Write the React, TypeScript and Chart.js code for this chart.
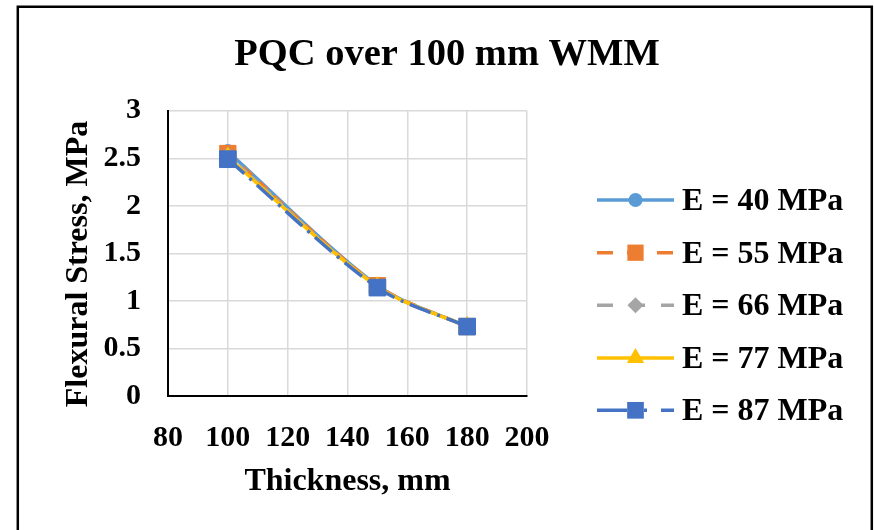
import React, { useEffect, useRef } from "react";
import { Chart, registerables } from "chart.js";

Chart.register(...registerables);

const thickness = [100, 150, 180];
const seriesLabels = ["E = 40 MPa", "E = 55 MPa", "E = 66 MPa", "E = 77 MPa", "E = 87 MPa"];
const e40 = [2.57, 1.16, 0.73];
const e55 = [2.55, 1.16, 0.73];
const e66 = [2.53, 1.15, 0.73];
const e77 = [2.51, 1.15, 0.73];
const e87 = [2.49, 1.14, 0.73];
const seriesValues = [e40, e55, e66, e77, e87];

const colors = ["#5B9BD5", "#ED7D31", "#A5A5A5", "#FFC000", "#4472C4"];
const dashes: number[][] = [[], [12, 9], [10, 6], [], [22, 7, 3, 7]];
const legendDashes: number[][] = [[], [16, 14], [16, 16], [], [30, 17, 3, 14]];
const pointStyles = ["circle", "rect", "rectRot", "triangle", "rect"];
const pointRadii = [7, 11.5, 8, 10, 11.8];

const FONT = "'Liberation Serif', 'Times New Roman', serif";

function drawMarker(ctx: CanvasRenderingContext2D, style: string, x: number, y: number, r: number, color: string) {
  ctx.save();
  ctx.setLineDash([]);
  ctx.fillStyle = color;
  ctx.beginPath();
  if (style === "circle") {
    ctx.arc(x, y, r, 0, Math.PI * 2);
  } else if (style === "rect") {
    const s = r * Math.SQRT1_2;
    ctx.rect(x - s, y - s, 2 * s, 2 * s);
  } else if (style === "rectRot") {
    ctx.moveTo(x - r, y);
    ctx.lineTo(x, y - r);
    ctx.lineTo(x + r, y);
    ctx.lineTo(x, y + r);
    ctx.closePath();
  } else if (style === "triangle") {
    const hw = r * Math.sin((2 * Math.PI) / 3);
    ctx.moveTo(x, y - r);
    ctx.lineTo(x + hw, y + r / 2);
    ctx.lineTo(x - hw, y + r / 2);
    ctx.closePath();
  }
  ctx.fill();
  ctx.restore();
}

const decorPlugin = {
  id: "decor",
  beforeDraw(chart: any) {
    const ctx = chart.ctx as CanvasRenderingContext2D;
    ctx.save();
    ctx.fillStyle = "#fff";
    ctx.fillRect(0, 0, chart.width, chart.height);
    ctx.restore();
  },
  afterDraw(chart: any) {
    const ctx = chart.ctx as CanvasRenderingContext2D;
    ctx.save();
    // frame
    ctx.strokeStyle = "#000";
    ctx.lineWidth = 2.5;
    ctx.beginPath();
    ctx.moveTo(17.8, 540);
    ctx.lineTo(17.8, 6.8);
    ctx.lineTo(871.8, 6.8);
    ctx.lineTo(871.8, 540);
    ctx.stroke();

    ctx.fillStyle = "#000";
    // title
    ctx.font = `bold 38.5px ${FONT}`;
    ctx.textAlign = "center";
    ctx.textBaseline = "alphabetic";
    ctx.fillText("PQC over 100 mm WMM", 447, 65);

    // x title
    ctx.font = `bold 32px ${FONT}`;
    const ca = chart.chartArea;
    ctx.fillText("Thickness, mm", (ca.left + ca.right) / 2, 490);

    // y title
    ctx.save();
    ctx.translate(87, 264);
    ctx.rotate(-Math.PI / 2);
    ctx.fillText("Flexural Stress, MPa", 0, 0);
    ctx.restore();

    // legend
    const baselines = [210, 262.7, 315.3, 368, 420.3];
    chart.data.datasets.forEach((ds: any, i: number) => {
      const by = baselines[i];
      const ly = by - 10;
      ctx.save();
      ctx.strokeStyle = colors[i];
      ctx.lineWidth = 3.5;
      ctx.lineCap = "butt";
      ctx.setLineDash(legendDashes[i]);
      ctx.beginPath();
      ctx.moveTo(597, ly);
      ctx.lineTo(674, ly);
      ctx.stroke();
      ctx.restore();
      drawMarker(ctx, pointStyles[i], 635.5, ly, pointRadii[i], colors[i]);
      ctx.fillStyle = "#000";
      ctx.font = `bold 32px ${FONT}`;
      ctx.textAlign = "left";
      ctx.textBaseline = "alphabetic";
      ctx.fillText(ds.label, 682, by);
    });
    ctx.restore();
  },
};

export default function App() {
  const ref = useRef<HTMLCanvasElement | null>(null);
  useEffect(() => {
    if (!ref.current) return;
    const datasets = seriesValues.map((vals, i) => ({
      label: seriesLabels[i],
      data: thickness.map((t, j) => ({ x: t, y: vals[j] })),
      borderColor: colors[i],
      backgroundColor: colors[i],
      borderWidth: 3.5,
      borderDash: dashes[i],
      tension: 0.3,
      pointStyle: pointStyles[i],
      pointRadius: pointRadii[i],
      pointBackgroundColor: colors[i],
      pointBorderColor: colors[i],
      pointBorderWidth: 1,
      order: 5 - i,
      fill: false,
    }));
    const chart = new Chart(ref.current, {
      type: "line",
      data: { datasets },
      options: {
        responsive: false,
        animation: false,
        layout: { padding: { top: 110.7, right: 347, bottom: 0, left: 0 } },
        plugins: {
          legend: { display: false },
          title: { display: false },
          tooltip: { enabled: false },
        },
        scales: {
          x: {
            type: "linear",
            min: 80,
            max: 200,
            afterFit: (s: any) => {
              s.height = 134;
            },
            ticks: {
              stepSize: 20,
              padding: 24,
              color: "#000",
              font: { family: FONT, size: 30, weight: "bold" },
              maxRotation: 0,
            },
            grid: { color: "#D9D9D9", lineWidth: 1.5, drawTicks: false },
            border: { display: true, color: "#000", width: 2, z: 1 },
          },
          y: {
            type: "linear",
            min: 0,
            max: 3,
            afterFit: (s: any) => {
              s.width = 168;
            },
            ticks: {
              stepSize: 0.5,
              padding: 27,
              color: "#000",
              font: { family: FONT, size: 30, weight: "bold" },
              callback: (v: any) => String(v),
            },
            grid: { color: "#D9D9D9", lineWidth: 1.5, drawTicks: false },
            border: { display: true, color: "#000", width: 2, z: 1 },
          },
        },
      },
      plugins: [decorPlugin],
    } as any);
    return () => chart.destroy();
  }, []);
  return (
    <div style={{ position: "absolute", left: 0, top: 0, width: 874, height: 530, background: "#fff" }}>
      <canvas ref={ref} width={874} height={530} style={{ display: "block" }} />
    </div>
  );
}
